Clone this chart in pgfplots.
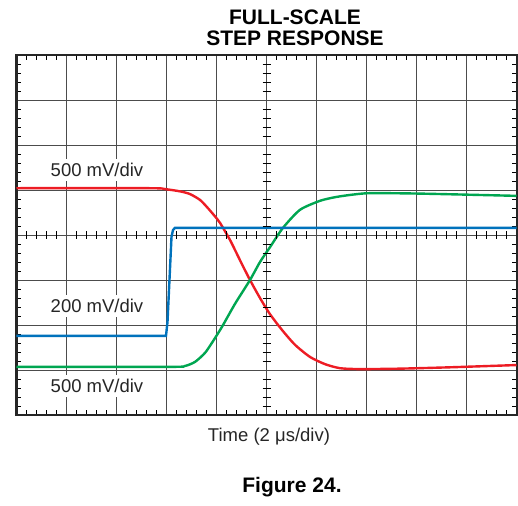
\documentclass[border=0pt]{standalone}
\usepackage{pgfplots}
\pgfplotsset{compat=1.18}
\usepackage{fontspec}
\setmainfont{Liberation Sans}

\definecolor{scred}{HTML}{ED1C24}
\definecolor{scgreen}{HTML}{00A651}
\definecolor{scblue}{HTML}{0072BC}

\begin{document}
\begin{tikzpicture}
  \useasboundingbox (-16.5bp,-91bp) rectangle (501.5bp,415bp);
  \begin{axis}[
      at={(0,0)}, anchor=south west,
      width=500bp, height=360bp, scale only axis,
      xmin=0, xmax=10, ymin=0, ymax=8,
      xtick={0,...,10}, ytick={0,...,8},
      xticklabels={}, yticklabels={},
      major tick length=0pt,
      minor x tick num=4, minor y tick num=4,
      minor tick length=5bp, tick align=inside,
      minor tick style={black, line width=0.8bp},
      grid=major, major grid style={black!70, line width=0.9bp},
      axis line style={black!85, line width=2bp},
      clip=false,
    ]
    % red trace
    \addplot[scred, line width=2.4bp, smooth, tension=0.4] coordinates {
      (0,5.04) (2.67,5.04) (2.97,5.02) (3.27,4.97) (3.47,4.91) (3.67,4.78)
      (3.81,4.62) (3.95,4.44) (4.07,4.27) (4.27,3.89) (4.47,3.44) (4.67,3.0)
      (4.87,2.6) (5.07,2.24) (5.31,1.89) (5.57,1.56) (5.87,1.29) (6.17,1.13)
      (6.47,1.04) (6.87,1.02) (7.67,1.03) (8.67,1.06) (10,1.11)
    };
    % green trace
    \addplot[scgreen, line width=2.4bp, smooth, tension=0.4] coordinates {
      (0,1.07) (3.07,1.07) (3.37,1.09) (3.57,1.18) (3.77,1.38) (3.93,1.64)
      (4.11,1.96) (4.37,2.47) (4.67,3.0) (4.87,3.4) (5.07,3.73) (5.33,4.16)
      (5.67,4.56) (6.07,4.76) (6.37,4.84) (6.67,4.89) (7.07,4.93) (8.07,4.92)
      (10,4.87)
    };
    % blue trace
    \addplot[scblue, line width=2.4bp] coordinates {
      (0,1.76) (2.99,1.76) (3.02,2.07) (3.10,3.96) (3.13,4.11) (3.17,4.16)
      (10,4.16)
    };
  \end{axis}
  % minor ticks on the centre lines
  \foreach \i in {1,...,49}{
    \pgfmathtruncatemacro{\r}{mod(\i,5)}
    \ifnum\r=0\else
      \draw[black, line width=0.8bp] (\i*10bp,176bp) -- (\i*10bp,184bp);
    \fi
  }
  \foreach \j in {1,...,39}{
    \pgfmathtruncatemacro{\r}{mod(\j,5)}
    \ifnum\r=0\else
      \draw[black, line width=0.8bp] (246bp,\j*9bp) -- (254bp,\j*9bp);
    \fi
  }
  \begin{scope}[every node/.style={font=\fontsize{18.5bp}{22bp}\selectfont, text=black!85}]
    \node[fill=white, inner xsep=1bp, inner ysep=4bp] at (80.5bp,245bp) {500 mV/div};
    \node[fill=white, inner xsep=1bp, inner ysep=4bp] at (80.5bp,109bp) {200 mV/div};
    \node[fill=white, inner xsep=1bp, inner ysep=4bp] at (80.5bp,29bp) {500 mV/div};
    \node at (252.5bp,-22bp) {Time (2 μs/div)};
  \end{scope}
  \node[align=center, font=\fontsize{21bp}{21bp}\selectfont\bfseries] at (278.5bp,387.5bp) {FULL-SCALE\\STEP RESPONSE};
  \node[font=\fontsize{21bp}{21bp}\selectfont\bfseries] at (275.5bp,-72bp) {Figure 24.};
\end{tikzpicture}
\end{document}
